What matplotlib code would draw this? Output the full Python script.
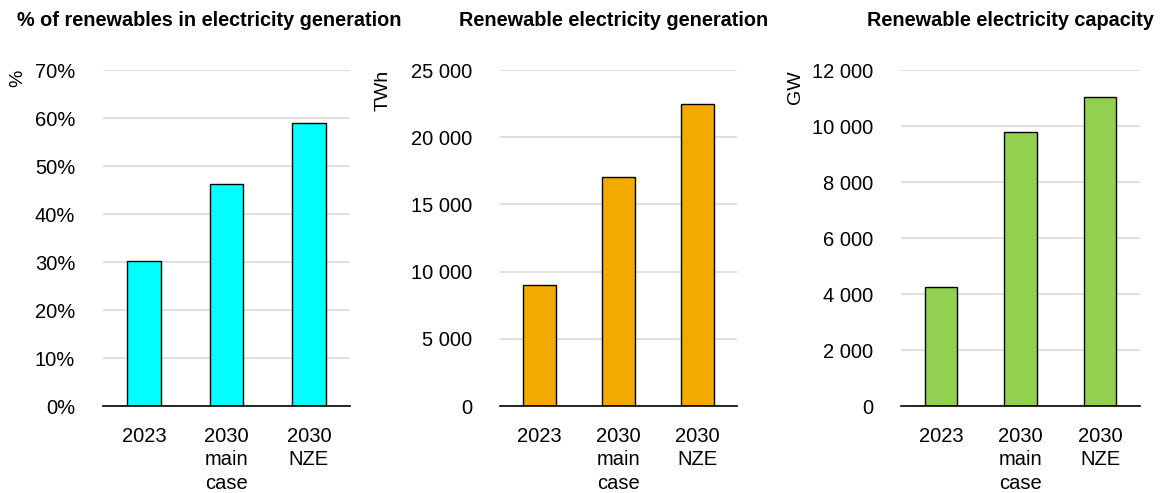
import matplotlib
matplotlib.use("Agg")
import matplotlib.pyplot as plt
from matplotlib.ticker import FuncFormatter, MultipleLocator

plt.rcParams['font.family'] = ['Liberation Sans', 'DejaVu Sans']

categories = ["2023", "2030\nmain\ncase", "2030\nNZE"]
share_pct = [30.2, 46.2, 59.0]
generation_twh = [9000, 17050, 22480]
capacity_gw = [4260, 9800, 11030]

titles = ["% of renewables in electricity generation",
          "Renewable electricity generation",
          "Renewable electricity capacity"]
units = ["%", "TWh", "GW"]
colors = ["#00FFFF", "#F2A900", "#92D050"]

W, H = 1163, 493
fig = plt.figure(figsize=(W / 100, H / 100), dpi=100)

def fx(px):
    return px / W

def fy(py):
    return 1 - py / H

axes_px = [(103, 350), (500, 737), (901, 1140)]
top_px, bot_px = 70, 406
title_x = [209, 614, 1010]
ylims = [70, 25000, 12000]
steps = [10, 5000, 2000]
datas = [share_pct, generation_twh, capacity_gw]
labelpads = [6, 14, 6]

def space_fmt(v, pos):
    return f"{int(round(v)):,}".replace(",", " ")

def pct_fmt(v, pos):
    return f"{int(round(v))}%"

for i in range(3):
    l, r = axes_px[i]
    ax = fig.add_axes([fx(l), fy(bot_px), fx(r - l), fy(top_px) - fy(bot_px)])
    x = range(len(categories))
    ax.bar(x, datas[i], width=0.41, color=colors[i], edgecolor="black", linewidth=1, zorder=3)
    ax.set_xlim(-0.5, 2.5)
    ax.set_ylim(0, ylims[i])
    ax.yaxis.set_major_locator(MultipleLocator(steps[i]))
    ax.yaxis.set_major_formatter(FuncFormatter(pct_fmt if i == 0 else space_fmt))
    ax.set_xticks(list(x))
    ax.set_xticklabels(categories, fontsize=14.5, linespacing=1.3, va="top")
    ax.tick_params(axis="both", length=0, labelsize=14.5)
    ax.tick_params(axis="x", pad=15)
    ax.tick_params(axis="y", pad=20)
    ax.grid(axis="y", color="#D9D9D9", linewidth=1.2, zorder=0)
    for s in ["top", "right", "left"]:
        ax.spines[s].set_visible(False)
    ax.spines["bottom"].set_color("black")
    ax.spines["bottom"].set_linewidth(1.2)
    ax.spines["bottom"].set_zorder(4)
    ax.set_ylabel(units[i], fontsize=14, loc="top", labelpad=labelpads[i])
    fig.text(fx(title_x[i]), fy(20), titles[i], ha="center", va="center",
             fontsize=14.3, fontweight="bold")

fig.savefig("out.png", dpi=100)
